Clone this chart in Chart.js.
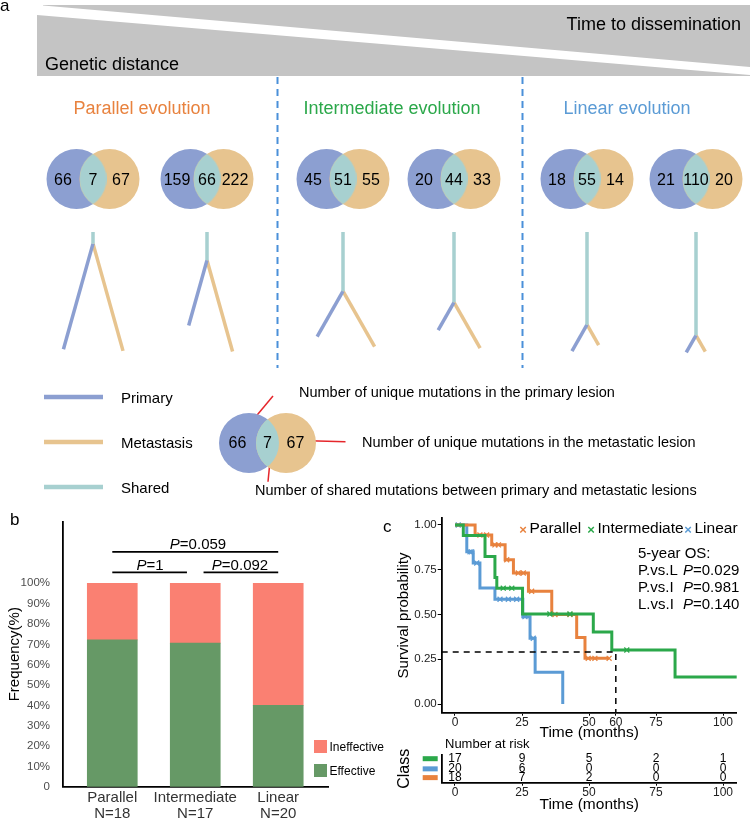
<!DOCTYPE html>
<html>
<head>
<meta charset="utf-8">
<script src="https://cdn.jsdelivr.net/npm/chart.js@4.4.0/dist/chart.umd.min.js"></script>
<style>
  body { margin: 0; background: #fff; }
  #wrap { position: relative; width: 750px; height: 818px; overflow: hidden; font-family: "Liberation Sans", Arial, sans-serif; }
  #wrap canvas { position: absolute; }
  .t { position: absolute; white-space: nowrap; line-height: 1; }
  .sw { position: absolute; width: 13px; height: 13px; }
</style>
</head>
<body>
<div id="wrap">
  <canvas id="panelA" width="750" height="500" style="left:0;top:0"></canvas>
  <canvas id="panelB" width="380" height="318" style="left:0;top:500px"></canvas>
  <canvas id="panelC" width="370" height="240" style="left:380px;top:505px"></canvas>
  <canvas id="riskC" width="370" height="73" style="left:380px;top:745px"></canvas>
</div>
<script>
// ---------- panel a: mutation counts per case ----------
const primaryOnly = [66, 159, 45, 20, 18, 21];
const sharedMut   = [7, 66, 51, 44, 55, 110];
const metOnly     = [67, 222, 55, 33, 14, 20];
const evoTitles   = ['Parallel evolution', 'Intermediate evolution', 'Linear evolution'];
const legendNames = ['Primary', 'Metastasis', 'Shared'];
const legendNotes = ['Number of unique mutations in the primary lesion',
                     'Number of unique mutations in the metastatic lesion',
                     'Number of shared mutations between primary and metastatic lesions'];

// ---------- panel b: response by evolution class ----------
const evoClasses     = ['Parallel', 'Intermediate', 'Linear'];
const classN         = [18, 17, 20];
const effectivePct   = [72.2, 70.6, 40.0];
const ineffectivePct = [27.8, 29.4, 60.0];
const pctTicks       = [0, 10, 20, 30, 40, 50, 60, 70, 80, 90, 100];
const pValues        = ['0.059', '1', '0.092'];

// ---------- panel c: Kaplan-Meier steps ----------
const parallelT      = [0, 7.5, 13.7, 18.7, 21.8, 27.4, 36.1, 45.4, 48.5, 57.5];
const parallelS      = [1, 0.944, 0.889, 0.806, 0.732, 0.630, 0.500, 0.371, 0.255, 0.255];
const parallelCensor = [9.3, 11.8, 14.9, 16.2, 19.3, 23.6, 25.5, 28.6, 37.3, 42.9, 49.7, 52.2, 57.5];
const intermT         = [0, 3.1, 11.2, 14.9, 15.6, 25.2, 51.6, 58.5, 82.1, 106.3];
const intermS         = [1, 0.941, 0.824, 0.706, 0.647, 0.503, 0.402, 0.302, 0.151, 0.151];
const intermCensor    = [18.0, 21.2, 35.4, 42.9, 64.1, 106.3];
const linearT        = [0, 4.4, 6.8, 9.3, 14.9, 25.3, 28.0, 29.9, 40.2];
const linearS        = [1, 0.850, 0.788, 0.648, 0.585, 0.488, 0.367, 0.177, 0];
const linearCensor   = [1.2, 5.6, 6.2, 8.1, 16.8, 19.9, 23.0, 26.1, 29.2];
const monthTicks     = [0, 25, 50, 60, 75, 100];
const survTicks      = [0, 0.25, 0.5, 0.75, 1];
const landmarkMonth  = 60;
const landmarkSurv   = 0.29;
const osTests        = [['P.vs.L', '0.029'], ['P.vs.I', '0.981'], ['L.vs.I', '0.140']];

// number at risk table
const riskTimes        = [0, 25, 50, 75, 100];
const riskIntermediate = [17, 9, 5, 2, 1];
const riskLinear       = [20, 6, 0, 0, 0];
const riskParallel     = [18, 7, 2, 0, 0];

// colours
const cPar = '#E8823E', cInt = '#2BA84A', cLin = '#5B9BD5';
const cPrim = '#8C9FD1', cMet = '#E7C48F', cShared = '#A7D0D0';

Chart.defaults.font.family = '"Liberation Sans", Arial, sans-serif';
Chart.defaults.color = '#222';

const wrap = document.getElementById('wrap');
function label(html, x, y, size, opts) {
  opts = opts || {};
  const d = document.createElement('div');
  d.className = 't';
  d.innerHTML = html;
  d.style.left = x + 'px';
  d.style.top = y + 'px';
  d.style.fontSize = size + 'px';
  d.style.color = opts.color || '#000';
  const tx = opts.align === 'center' ? '-50%' : opts.align === 'right' ? '-100%' : '0';
  d.style.transform = 'translate(' + tx + ',-50%)';
  wrap.appendChild(d);
}

// ================= panel a =================
const vennX = [93, 207, 343, 454, 587, 696];   // centre of each shared lens
const vennY = 179, vennR = 30, vennGap = 33;
const keyVenn = { x: 267.5, y: 443, gap: 37 };
const treeTop = 232, treeLen = 123;
const branchSlope = [0.28, 0.28, 0.57, 0.57, 0.57, 0.57];

function lensStyle(r, d, color) {
  const w = 2 * r - d, h = 2 * Math.sqrt(r * r - d * d / 4);
  const c = document.createElement('canvas');
  c.width = Math.ceil(w); c.height = Math.ceil(h);
  const g = c.getContext('2d');
  const cx = c.width / 2, cy = c.height / 2;
  g.beginPath(); g.arc(cx - d / 2, cy, r, 0, Math.PI * 2); g.clip();
  g.beginPath(); g.arc(cx + d / 2, cy, r, 0, Math.PI * 2);
  g.fillStyle = color; g.fill();
  return c;
}

const aSets = [];
function seg(points, color, width, dash) {
  aSets.push({ type: 'line', data: points, borderColor: color, borderWidth: width,
    borderDash: dash || [], pointRadius: 0, fill: false, borderCapStyle: 'butt', order: 5 });
}

// grey wedges
aSets.push({ type: 'line', data: [{ x: 43, y: 5.5 }, { x: 750, y: 67 }], fill: { value: 5 },
  backgroundColor: '#c4c4c4', borderWidth: 0, pointRadius: 0, order: 9 });
aSets.push({ type: 'line', data: [{ x: 37, y: 15 }, { x: 750, y: 75 }], fill: { value: 76 },
  backgroundColor: '#c4c4c4', borderWidth: 0, pointRadius: 0, order: 9 });

// dashed separators
seg([{ x: 277.5, y: 77 }, { x: 277.5, y: 368 }], '#4A90D9', 2, [7, 5]);
seg([{ x: 522.5, y: 77 }, { x: 522.5, y: 368 }], '#4A90D9', 2, [7, 5]);

// venn circles
const blueC = vennX.map(c => ({ x: c - vennGap / 2, y: vennY })).concat([{ x: keyVenn.x - keyVenn.gap / 2, y: keyVenn.y }]);
const orangeC = vennX.map(c => ({ x: c + vennGap / 2, y: vennY })).concat([{ x: keyVenn.x + keyVenn.gap / 2, y: keyVenn.y }]);
aSets.push({ type: 'scatter', data: blueC, pointRadius: vennR, backgroundColor: cPrim, borderWidth: 0, order: 4 });
aSets.push({ type: 'scatter', data: orangeC, pointRadius: vennR, backgroundColor: cMet, borderWidth: 0, order: 3 });
aSets.push({ type: 'scatter', data: vennX.map(c => ({ x: c, y: vennY })), pointRadius: 14,
  pointStyle: lensStyle(vennR, vennGap, cShared), order: 2 });
aSets.push({ type: 'scatter', data: [{ x: keyVenn.x, y: keyVenn.y }], pointRadius: 12,
  pointStyle: lensStyle(vennR, keyVenn.gap, cShared), order: 2 });

// trees: trunk = shared, branches = private mutations
vennX.forEach((cx, i) => {
  const k = treeLen / (sharedMut[i] + Math.max(primaryOnly[i], metOnly[i]));
  const forkY = treeTop + sharedMut[i] * k;
  const a = branchSlope[i], n = Math.sqrt(1 + a * a);
  const pdy = primaryOnly[i] * k / n, mdy = metOnly[i] * k / n;
  seg([{ x: cx, y: treeTop }, { x: cx, y: forkY }], cShared, 3.5);
  seg([{ x: cx, y: forkY }, { x: cx - a * pdy, y: forkY + pdy }], cPrim, 3.5);
  seg([{ x: cx, y: forkY }, { x: cx + a * mdy, y: forkY + mdy }], cMet, 3.5);
});

// legend lines
const keyY = [397, 442, 487];
[cPrim, cMet, cShared].forEach((col, i) => seg([{ x: 44, y: keyY[i] }, { x: 103, y: keyY[i] }], col, 4.5));

// red pointers
seg([{ x: 253.6, y: 419.3 }, { x: 273, y: 396 }], '#E5262B', 1.5);
seg([{ x: 308.6, y: 440.7 }, { x: 345.5, y: 441.7 }], '#E5262B', 1.5);
seg([{ x: 270.3, y: 458.3 }, { x: 268, y: 481.7 }], '#E5262B', 1.5);

new Chart(document.getElementById('panelA'), {
  type: 'scatter',
  data: { datasets: aSets },
  options: {
    responsive: false, animation: false, events: [],
    layout: { padding: 0, autoPadding: false },
    plugins: { legend: { display: false }, tooltip: { enabled: false } },
    scales: {
      x: { type: 'linear', min: 0, max: 750, display: false },
      y: { type: 'linear', min: 0, max: 500, reverse: true, display: false }
    }
  }
});

// panel a text
label('a', 0, 5, 17);
label('Time to dissemination', 741, 24, 18, { align: 'right' });
label('Genetic distance', 45, 64, 18);
label(evoTitles[0], 142, 108, 18, { align: 'center', color: cPar });
label(evoTitles[1], 392, 108, 18, { align: 'center', color: cInt });
label(evoTitles[2], 627, 108, 18, { align: 'center', color: cLin });
vennX.forEach((c, i) => {
  label(primaryOnly[i], c - vennR, vennY + 1, 16, { align: 'center' });
  label(sharedMut[i], c, vennY + 1, 16, { align: 'center' });
  label(metOnly[i], c + vennR - 2, vennY + 1, 16, { align: 'center' });
});
label(primaryOnly[0], keyVenn.x - vennR, keyVenn.y, 16, { align: 'center' });
label(sharedMut[0], keyVenn.x, keyVenn.y, 16, { align: 'center' });
label(metOnly[0], keyVenn.x + vennR - 2, keyVenn.y, 16, { align: 'center' });
legendNames.forEach((n, i) => label(n, 121, keyY[i], 15));
label(legendNotes[0], 299, 392, 14.5);
label(legendNotes[1], 362, 442, 14.5);
label(legendNotes[2], 255, 490, 14.5);

// ================= panel b =================
const bracketPlugin = {
  id: 'brackets',
  afterDatasetsDraw(chart) {
    const { ctx, scales: { x, y } } = chart;
    const spans = [[1, 3, 115.5], [1, 1.9, 105.4], [2.1, 3, 105.4]];
    ctx.save();
    ctx.strokeStyle = '#000';
    ctx.lineWidth = 1.8;
    spans.forEach(s => {
      const py = y.getPixelForValue(s[2]);
      ctx.beginPath();
      ctx.moveTo(x.getPixelForValue(s[0]), py);
      ctx.lineTo(x.getPixelForValue(s[1]), py);
      ctx.stroke();
    });
    ctx.restore();
  }
};

new Chart(document.getElementById('panelB'), {
  type: 'bar',
  data: {
    datasets: [
      { label: 'Effective', data: effectivePct.map((v, i) => ({ x: i + 1, y: v })),
        backgroundColor: '#669966', barThickness: 50, borderWidth: 0 },
      { label: 'Ineffective', data: ineffectivePct.map((v, i) => ({ x: i + 1, y: v })),
        backgroundColor: '#FA8072', barThickness: 50, borderWidth: 0 }
    ]
  },
  options: {
    responsive: false, animation: false, events: [],
    layout: { padding: { top: 21.7, right: 52, left: 0, bottom: 0 }, autoPadding: false },
    plugins: { legend: { display: false }, tooltip: { enabled: false } },
    scales: {
      x: {
        type: 'linear', stacked: true, min: 0.4, max: 3.6, offset: false,
        afterBuildTicks: s => { s.ticks = evoClasses.map((c, i) => ({ value: i + 1 })); },
        ticks: { autoSkip: false, maxRotation: 0, padding: -5, color: '#333',
          font: { size: 15, lineHeight: 1.07 },
          callback: v => [evoClasses[v - 1], 'N=' + classN[v - 1]] },
        grid: { display: false },
        border: { display: true, color: '#000', width: 1.8 },
        afterFit: s => { s.height = 31.3; }
      },
      y: {
        stacked: true, min: 0, max: 130.3,
        afterBuildTicks: s => { s.ticks = pctTicks.map(v => ({ value: v })); },
        ticks: { padding: 4.5, color: '#4D4D4D', font: { size: 11.5 },
          callback: v => (v === 0 ? '0' : v + '%') },
        grid: { display: false },
        border: { display: true, color: '#000', width: 1.8 },
        title: { display: true, text: 'Frequency(%)', color: '#000', font: { size: 15 }, padding: { top: 6, bottom: 0 } },
        afterFit: s => { s.width = 62.5; }
      }
    }
  },
  plugins: [bracketPlugin]
});

label('b', 10, 519, 17);
label('<i>P</i>=' + pValues[0], 198, 543, 15, { align: 'center' });
label('<i>P</i>=' + pValues[1], 150, 564, 15, { align: 'center' });
label('<i>P</i>=' + pValues[2], 240, 564, 15, { align: 'center' });
[['#FA8072', 'Ineffective', 740], ['#669966', 'Effective', 764]].forEach(r => {
  const s = document.createElement('div');
  s.className = 'sw';
  s.style.left = '314px'; s.style.top = r[2] + 'px'; s.style.background = r[0];
  wrap.appendChild(s);
  label(r[1], 329.5, r[2] + 7, 12);
});

// ================= panel c =================
function steps(T, S) { return T.map((t, i) => ({ x: t, y: S[i] })); }
function survAt(T, S, t) {
  let s = S[0];
  for (let i = 0; i < T.length; i++) if (T[i] <= t) s = S[i];
  return s;
}
function censorPts(T, S, C) { return C.map(t => ({ x: t, y: survAt(T, S, t) })); }

const groups = [
  { T: linearT, S: linearS, C: linearCensor, col: cLin },
  { T: parallelT, S: parallelS, C: parallelCensor, col: cPar },
  { T: intermT, S: intermS, C: intermCensor, col: cInt }
];
const kmSets = [];
groups.forEach((g, i) => {
  kmSets.push({ type: 'line', data: steps(g.T, g.S), stepped: 'before', borderColor: g.col,
    borderWidth: 3, pointRadius: 0, fill: false, order: 10 - 2 * i });
  kmSets.push({ type: 'scatter', data: censorPts(g.T, g.S, g.C), pointStyle: 'crossRot',
    pointRadius: 3.5, borderColor: g.col, borderWidth: 1.3, backgroundColor: g.col, order: 9 - 2 * i });
});
kmSets.push({ type: 'line', data: [{ x: -4.96, y: landmarkSurv }, { x: landmarkMonth, y: landmarkSurv }, { x: landmarkMonth, y: -0.0486 }],
  borderColor: '#000', borderWidth: 1.5, borderDash: [6, 5], pointRadius: 0, fill: false, order: 0 });

function monthAxis(tickList, height, titlePad) {
  return {
    type: 'linear', min: -4.96, max: 105.1,
    afterBuildTicks: s => { s.ticks = tickList.map(v => ({ value: v })); },
    ticks: { autoSkip: false, maxRotation: 0, padding: 0, color: '#222', font: { size: 12 } },
    grid: { display: true, drawOnChartArea: false, drawTicks: true, tickLength: 3, color: '#000', lineWidth: 1 },
    border: { display: true, color: '#000', width: 1.8 },
    title: { display: true, text: 'Time (months)', color: '#000', font: { size: 15.5 }, padding: { top: 0, bottom: titlePad } },
    afterFit: s => { s.height = height; }
  };
}

new Chart(document.getElementById('panelC'), {
  type: 'line',
  data: { datasets: kmSets },
  options: {
    responsive: false, animation: false, events: [],
    layout: { padding: { top: 13.3, right: 13.3, left: 0, bottom: 0 }, autoPadding: false },
    plugins: { legend: { display: false }, tooltip: { enabled: false } },
    scales: {
      x: monthAxis(monthTicks, 32.3, 2.7),
      y: {
        min: -0.0486, max: 1.0374,
        afterBuildTicks: s => { s.ticks = survTicks.map(v => ({ value: v })); },
        ticks: { padding: 1, color: '#222', font: { size: 11.5 }, callback: v => v.toFixed(2) },
        grid: { display: true, drawOnChartArea: false, drawTicks: true, tickLength: 4, color: '#000', lineWidth: 1 },
        border: { display: true, color: '#000', width: 1.8 },
        title: { display: true, text: 'Survival probability', color: '#000', font: { size: 15 }, padding: { top: 15, bottom: 0 } },
        afterFit: s => { s.width = 61.7; }
      }
    }
  }
});

// number at risk
const riskRows = [
  { counts: riskIntermediate, col: cInt, pos: 2.6 },
  { counts: riskLinear, col: cLin, pos: 1.5 },
  { counts: riskParallel, col: cPar, pos: 0.55 }
];
const riskPlugin = {
  id: 'riskCells',
  afterDatasetsDraw(chart) {
    const { ctx, chartArea } = chart;
    ctx.save();
    ctx.font = '12px "Liberation Sans", Arial, sans-serif';
    ctx.textAlign = 'center';
    ctx.textBaseline = 'middle';
    chart.data.datasets.forEach((ds, i) => {
      const pts = chart.getDatasetMeta(i).data;
      ctx.fillStyle = '#000';
      pts.forEach((p, j) => ctx.fillText(String(ds.counts[j]), p.x, p.y));
      ctx.fillStyle = ds.swatch;
      ctx.fillRect(chartArea.left - 19, pts[0].y - 2.5, 15, 5);
    });
    ctx.restore();
  }
};
new Chart(document.getElementById('riskC'), {
  type: 'scatter',
  data: {
    datasets: riskRows.map(r => ({ data: riskTimes.map(t => ({ x: t, y: r.pos })), counts: r.counts,
      swatch: r.col, pointRadius: 0 }))
  },
  options: {
    responsive: false, animation: false, events: [],
    layout: { padding: { top: 10, right: 13.3, left: 0, bottom: 0 }, autoPadding: false },
    plugins: { legend: { display: false }, tooltip: { enabled: false } },
    scales: {
      x: monthAxis(riskTimes, 35.3, 4),
      y: {
        min: 0, max: 3,
        ticks: { display: false },
        grid: { display: false },
        border: { display: true, color: '#000', width: 1.8 },
        title: { display: true, text: 'Class', color: '#000', font: { size: 16 }, padding: { top: 15, bottom: 0 } },
        afterFit: s => { s.width = 61.7; }
      }
    }
  },
  plugins: [riskPlugin]
});

label('c', 383, 525.6, 17);
[[cPar, 'Parallel', 523], [cInt, 'Intermediate', 591], [cLin, 'Linear', 688]].forEach(l => {
  label('<b>&times;</b>', l[2], 528.5, 13, { align: 'center', color: l[0] });
  label(l[1], l[2] + 6.5, 528, 15.5);
});
label('5-year OS:', 638, 551.7, 15);
osTests.forEach((r, i) => {
  const y = 568.5 + i * 17;
  label(r[0], 638, y, 15);
  label('<i>P</i>=' + r[1], 683, y, 15);
});
label('Number at risk', 445, 743.3, 13);
</script>
</body>
</html>
